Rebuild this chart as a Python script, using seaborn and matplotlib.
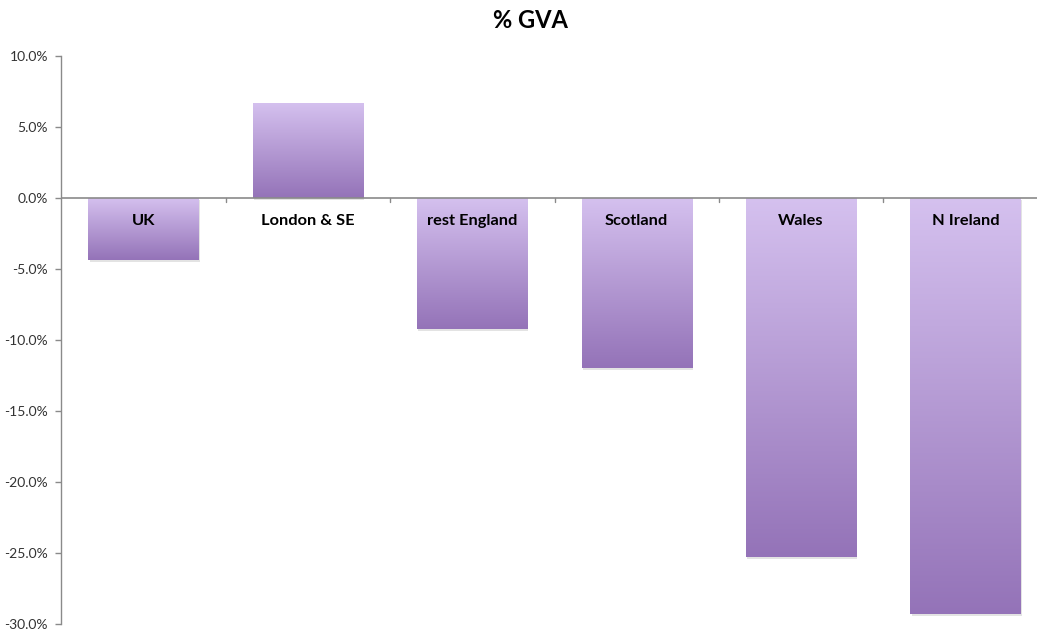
import numpy as np
import pandas as pd
import matplotlib
matplotlib.use("Agg")
import matplotlib.pyplot as plt
import matplotlib.patheffects as pe
from matplotlib.colors import LinearSegmentedColormap
import seaborn as sns

categories = ["UK", "London & SE", "rest England", "Scotland", "Wales", "N Ireland"]
values = [-4.4, 6.7, -9.25, -12.0, -25.3, -29.3]
yticks = [10, 5, 0, -5, -10, -15, -20, -25, -30]
title = "% GVA"

sns.set_theme(style="white")
plt.rcParams['font.family'] = ['Lato', 'DejaVu Sans']

df = pd.DataFrame({"region": categories, "gva": values})

fig = plt.figure(figsize=(10.37, 6.34), dpi=100)
ax = fig.add_axes([61.3 / 1037, 1 - 624 / 634, (6 * 164.4) / 1037, (624 - 56) / 634])

sns.barplot(data=df, x="region", y="gva", order=categories, ax=ax,
            color="#a98bcf", width=0.67, saturation=1, zorder=2,
            edgecolor="none", linewidth=0)

cmap = LinearSegmentedColormap.from_list("grad", ["#9473b8", "#d5c1ef"])
grad = np.linspace(0, 1, 256).reshape(-1, 1)
for p in ax.patches:
    p.set_path_effects([pe.SimplePatchShadow(offset=(0.8, -1.4), shadow_rgbFace="#777777", alpha=0.2), pe.Normal()])
    x0 = p.get_x(); w = p.get_width()
    y0 = p.get_y(); h = p.get_height()
    ylo, yhi = min(y0, y0 + h), max(y0, y0 + h)
    im = ax.imshow(grad, cmap=cmap, origin="lower", aspect="auto",
                   extent=[x0, x0 + w, ylo, yhi], zorder=3, interpolation="bilinear")
    im.set_clip_path(p)

ax.set_xlim(-0.5, len(categories) - 0.5)
ax.set_ylim(-30, 10)
ax.set_yticks(yticks)
ax.set_yticklabels([f"{t:.1f}%" for t in yticks], fontsize=10, color="#333333")
ax.set_xlabel("")
ax.set_ylabel("")
ax.set_xticks([])

for s in ["top", "right", "bottom"]:
    ax.spines[s].set_visible(False)
ax.spines["left"].set_color("#8a8a8a")
ax.spines["left"].set_linewidth(1)
ax.tick_params(axis="y", which="both", left=True, length=4.5, width=1, color="#8a8a8a", pad=5)

ax.axhline(0, color="#8a8a8a", lw=1.2, zorder=4)
for b in np.arange(0.5, len(categories) - 0.5, 1.0):
    ax.plot([b, b], [0, -0.3], color="#8a8a8a", lw=1, zorder=4, clip_on=False)

for i, c in enumerate(categories):
    ax.text(i, -1.65, c, ha="center", va="center", fontsize=11.8, fontweight="bold",
            color="black", zorder=5)

fig.text(530 / 1037, 1 - 21 / 634, title, ha="center", va="center",
         fontsize=17, fontweight="bold", color="black")

fig.savefig("out.png", dpi=100)
